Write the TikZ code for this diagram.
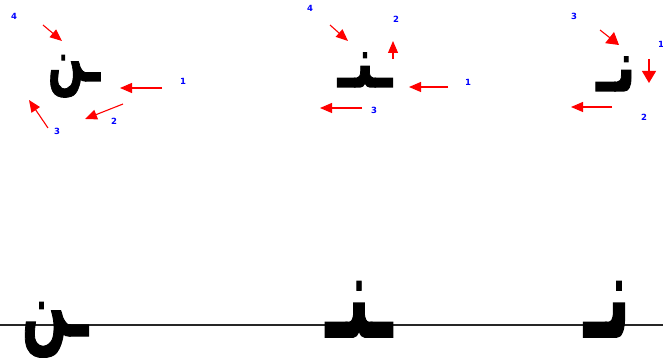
\documentclass[tikz,border=0pt]{standalone}
\usepackage{fontspec}
\setsansfont{DejaVu Sans}
\newfontfamily\arabicfont[Script=Arabic,FakeBold=1.5]{DejaVu Sans}
\TeXXeTstate=1
\usetikzlibrary{arrows.meta}
\definecolor{arrred}{RGB}{255,0,0}
\definecolor{numblue}{RGB}{0,0,255}
\tikzset{
  stroke/.style={draw=arrred, line width=1.1pt, -{Triangle[length=12pt,width=10pt]}},
  widehead/.style={-{Triangle[length=12pt,width=14pt]}},
  num/.style={text=numblue, font=\sffamily\bfseries\fontsize{8.5}{9}\selectfont, inner sep=0pt},
  bigglyph/.style={inner sep=0pt, anchor=base, font=\arabicfont\bfseries\fontsize{55}{60}\selectfont},
  smallglyph/.style={inner sep=0pt, anchor=base, font=\arabicfont\bfseries\fontsize{42}{46}\selectfont},
}
\newcommand{\arw}[3]{\scalebox{#1}[#2]{\beginR #3\endR}}
\begin{document}
\begin{tikzpicture}[x=1pt,y=-1pt]
\useasboundingbox (0,0) rectangle (663,358);
% baseline
\coordinate (L) at (0,325);
\coordinate (R) at (663,325);
\draw[black!85, line width=1.3pt] (L) -- (R);
% big glyphs
\node[bigglyph] (bf) at (55,336) {\arw{0.97}{1.6}{ـن}};
\node[bigglyph] (bm) at (359,337) {\arw{1.11}{2.1}{ـنـ}};
\node[bigglyph] (bi) at (607,337) {\arw{1.17}{2.1}{نـ}};
% small glyphs
\node[smallglyph] (sf) at (74,81) {\arw{1.0}{1.6}{ـن}};
\node[smallglyph] (sm) at (365,87) {\arw{1.19}{1.7}{ـنـ}};
\node[smallglyph] (si) at (616,91) {\arw{1.3}{1.7}{نـ}};
% final form arrows
\coordinate (f1s) at (162,88); \coordinate (f1e) at (120,88);
\coordinate (f2s) at (123,104); \coordinate (f2e) at (85,119);
\coordinate (f3s) at (48,128); \coordinate (f3e) at (29,100);
\coordinate (f4s) at (43,25); \coordinate (f4e) at (62,41);
\draw[stroke] (f1s) -- (f1e);
\draw[stroke] (f2s) -- (f2e);
\draw[stroke] (f3s) -- (f3e);
\draw[stroke] (f4s) -- (f4e);
\node[num] (fn1) at (183,81) {1};
\node[num] (fn2) at (114,121) {2};
\node[num] (fn3) at (57,131) {3};
\node[num] (fn4) at (14,16) {4};
% medial form arrows
\coordinate (m1s) at (448,87); \coordinate (m1e) at (409,87);
\coordinate (m2s) at (393,59); \coordinate (m2e) at (393,41);
\coordinate (m3s) at (362,108); \coordinate (m3e) at (320,108);
\coordinate (m4s) at (330,25); \coordinate (m4e) at (348,41);
\draw[stroke] (m1s) -- (m1e);
\draw[stroke] (m2s) -- (m2e);
\draw[stroke] (m3s) -- (m3e);
\draw[stroke] (m4s) -- (m4e);
\node[num] (mn1) at (468,82) {1};
\node[num] (mn2) at (396,19) {2};
\node[num] (mn3) at (374,110) {3};
\node[num] (mn4) at (310,8) {4};
% initial form arrows
\coordinate (i1s) at (649,59); \coordinate (i1e) at (649,83);
\coordinate (i2s) at (612,107); \coordinate (i2e) at (571,107);
\coordinate (i3s) at (600,30); \coordinate (i3e) at (619,45);
\draw[stroke, widehead] (i1s) -- (i1e);
\draw[stroke] (i2s) -- (i2e);
\draw[stroke, widehead] (i3s) -- (i3e);
\node[num] (in1) at (661,44) {1};
\node[num] (in2) at (644,117) {2};
\node[num] (in3) at (574,16) {3};
\end{tikzpicture}
\end{document}
